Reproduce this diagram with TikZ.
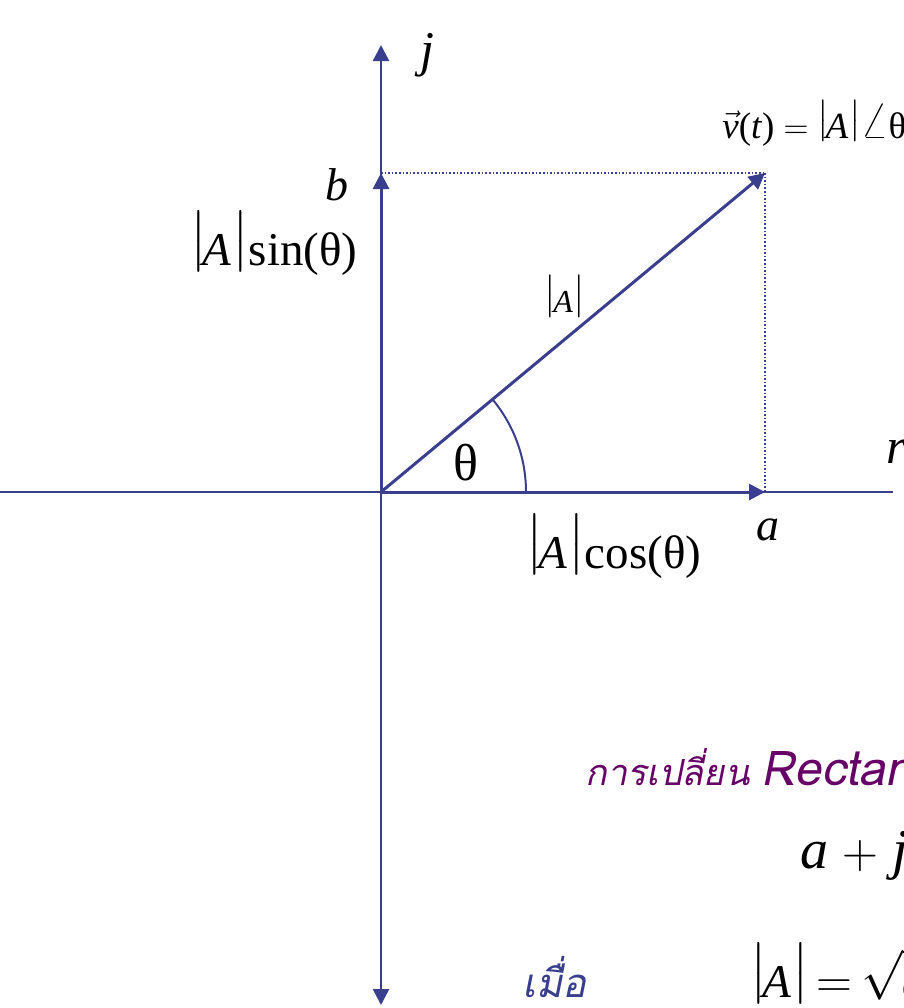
\documentclass[tikz,border=0pt]{standalone}
\usepackage{amsmath}
\usepackage{graphicx}
\usepackage{fontspec}
\setmainfont{Liberation Serif}
\newfontfamily\thaifont[Script=Thai,FakeSlant=0.2]{Loma}
\usetikzlibrary{arrows.meta, positioning, calc}
\definecolor{AxisBlue}{RGB}{58,62,142}
\definecolor{ThaiPurple}{RGB}{102,0,102}
\newcommand{\magbar}{\raisebox{0.23em}{$\big|$}}
\newcommand{\absA}{\magbar\kern-0.1em\textit{A}\kern0.02em\magbar}

\begin{document}
\begin{tikzpicture}[x=0.5pt, y=-0.5pt,
  axis/.style={AxisBlue, line width=1.2pt},
  vec/.style={AxisBlue, line width=1.5pt, -{Triangle[length=8pt,width=8pt]}},
  guide/.style={AxisBlue, densely dotted, line width=0.8pt},
  lbl/.style={inner sep=0pt, font=\fontsize{23.5}{28}\selectfont}]
  \useasboundingbox (0,0) rectangle (904,1008);

  % points of the plane
  \coordinate (O) at (381,492);
  \coordinate (B) at (381,173);
  \coordinate (A) at (765,492);
  \coordinate (P) at (765,173);
  \coordinate (top) at (381,45);
  \coordinate (bot) at (381,1005);
  \coordinate (left) at (0,492);
  \coordinate (right) at (893,492);

  % projections
  \draw[guide] (B) -- (P);
  \draw[guide] (P) -- (A);

  % axes
  \draw[axis, {Triangle[length=8pt,width=8pt]}-{Triangle[length=8pt,width=8pt]}] (bot) -- (top);
  \draw[axis, line width=1pt] (left) -- (right);

  % components and vector
  \draw[vec] (O) -- (A);
  \draw[vec] (O) -- (B);
  \draw[vec] (O) -- (P);

  % angle
  \draw[AxisBlue, line width=1pt] (O) ++(0:145) arc[start angle=0, end angle=-39.7, radius=145];

  % labels
  \node[lbl, font=\fontsize{25}{28}\selectfont\itshape] (jlbl) at (427,55) {j};
  \node[lbl, font=\fontsize{23}{26}\selectfont\itshape] (blbl) at (337,185) {b};
  \node[lbl, anchor=base east] (sinlbl) at (358,265) {\absA sin(θ)};
  \node[lbl, font=\fontsize{26}{30}\selectfont] (thlbl) at (466,463) {θ};
  \node[lbl, anchor=base, font=\fontsize{16}{19}\selectfont] (maglbl) at (565,312) {\absA};
  \node[lbl, anchor=base] (coslbl) at (614,568) {\absA cos(θ)};
  \node[lbl, font=\fontsize{23}{26}\selectfont\itshape] (albl) at (768,530) {a};
  \node[lbl, anchor=west, font=\fontsize{25}{28}\selectfont\itshape] (rlbl) at (886,452) {r};
  \node[lbl, anchor=base west, font=\fontsize{18.5}{22}\selectfont] (vlbl) at (722,138)
    {$\vec{\textit{v}}$(\textit{t}) $=$ \absA\scalebox{1.5}{$\angle$}θ};

  % conversion
  \node[lbl, anchor=base west, text=ThaiPurple, font=\fontsize{18}{22}\thaifont] (convlbl) at (585,785)
    {การเปลี่ยน {\fontsize{24}{28}\selectfont Rectangular}};
  \node[lbl, anchor=base west, font=\fontsize{28}{32}\selectfont] (rectlbl) at (800,868)
    {\textit{a} $+$ \textit{jb}};
  \node[lbl, anchor=base west, text=AxisBlue, font=\fontsize{20}{24}\thaifont] (whenlbl) at (522,997)
    {เมื่อ};
  \node[lbl, anchor=base west] (modlbl) at (750,997)
    {\absA$\,{=}\,\sqrt{\textit{a}^2+\textit{b}^2}$};
\end{tikzpicture}
\end{document}
